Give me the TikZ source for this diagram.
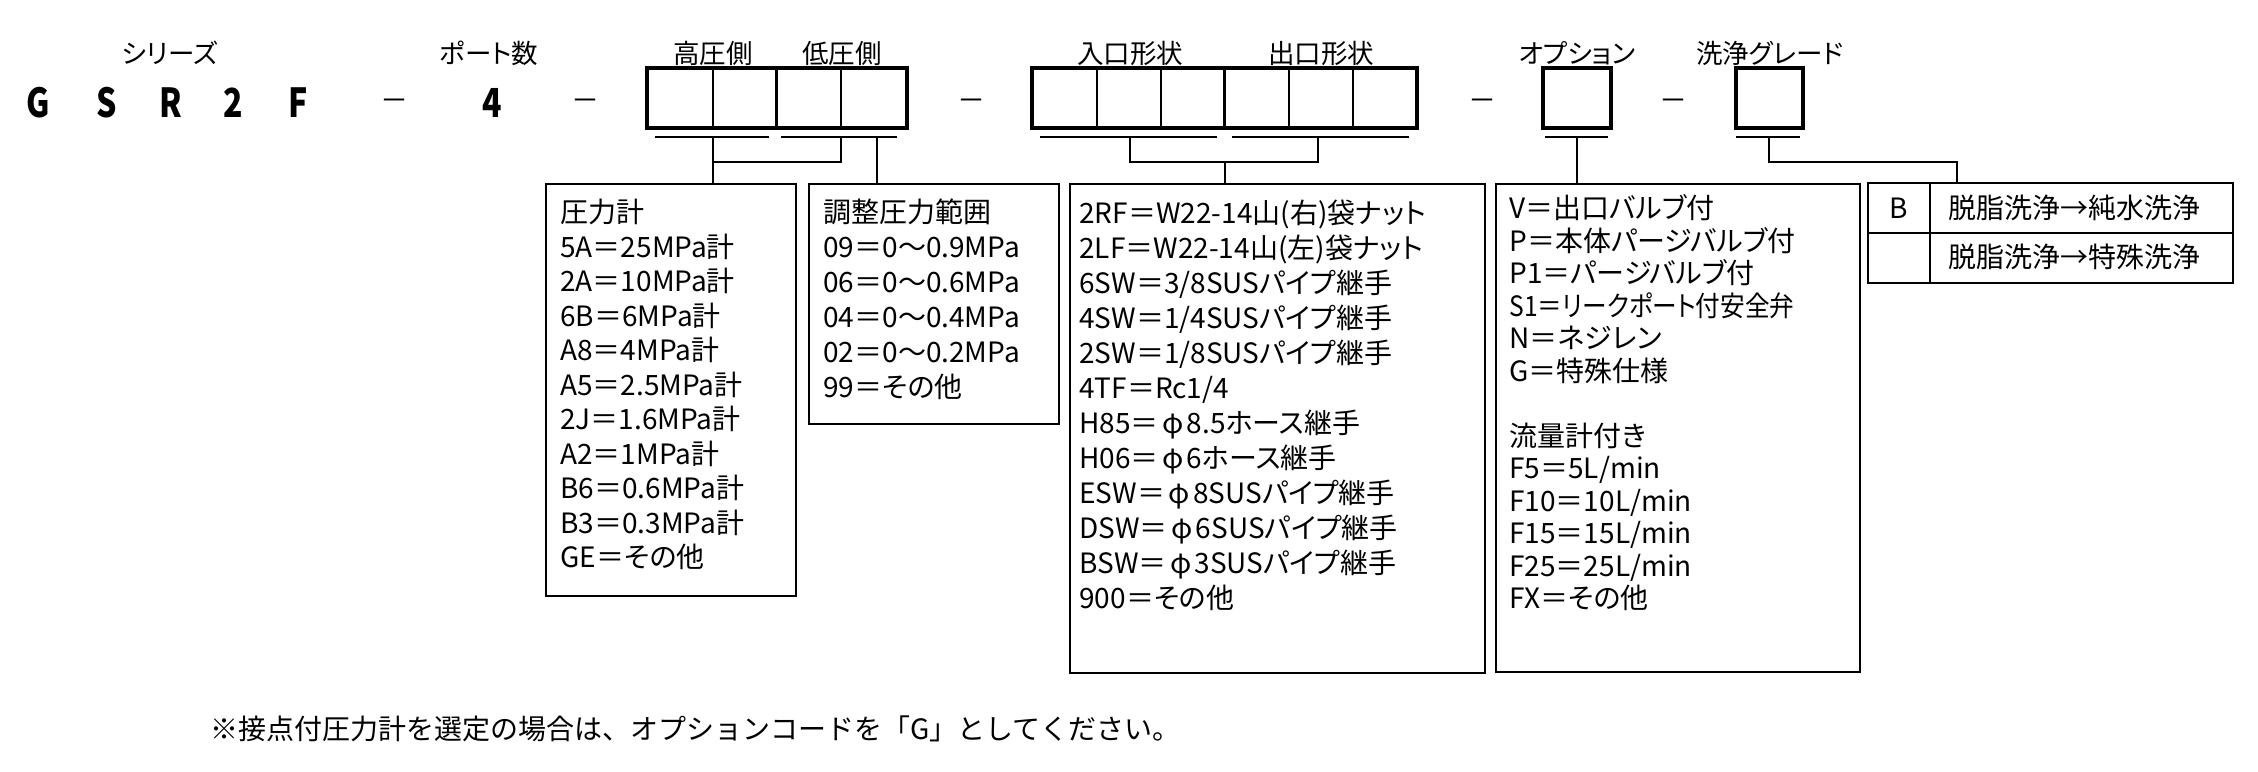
\documentclass[tikz,border=0pt]{standalone}
\usepackage{fontspec}
\usepackage{graphicx}
\setmainfont{Noto Sans CJK JP}[RawFeature=+palt]
\newfontfamily\notefont{Noto Sans CJK JP}
\usetikzlibrary{calc}

\tikzset{
  listline/.style={anchor=west, inner sep=0pt, text height=12.3pt, text depth=1.7pt, font=\fontsize{14pt}{16pt}\selectfont},
  headlabel/.style={inner sep=0pt, text height=11.7pt, text depth=1.6pt, font=\fontsize{13.25pt}{16pt}\selectfont},
  codechar/.style={inner sep=0pt, anchor=base, font=\fontsize{20pt}{24pt}\selectfont\bfseries},
  sepmark/.style={inner sep=0pt, text height=12.3pt, text depth=1.7pt, font=\fontsize{14pt}{16pt}\selectfont},
  listbox/.style={draw, line width=0.85pt, anchor=north west, inner sep=0pt, outer sep=0pt},
  codebox/.style={draw, line width=1.9pt, anchor=north west, inner sep=0pt, outer sep=0pt},
  connector/.style={line width=0.9pt},
  uline/.style={line width=1pt},
}

\begin{document}
\begin{tikzpicture}[x=0.5pt, y=-0.5pt]
\fill[white] (0,0) rectangle (2258,771);
% model code
\foreach \x/\c [count=\k] in {38/G, 107/S, 171/R, 233/2, 298/F}
{	\node[codechar] (code\k) at (\x,117) {\scalebox{0.8}[1]{\c}};
}
\node[codechar] (portnum) at (492,117) {\scalebox{0.8}[1]{4}};
\foreach \x [count=\k] in {394,585,971,1482,1673}
{	\node[sepmark] (sep\k) at (\x,100) {－};
}
% headings
\foreach \x/\txt/\nm in {170/シリーズ/series, 489/ポート数/ports, 713/高圧側/hi, 842/低圧側/lo, 1130/入口形状/inlet, 1321/出口形状/outlet, 1577/オプション/opt, 1770/洗浄グレード/clean}
{	\node[headlabel] (head-\nm) at (\x,53) {\txt};
}
% code boxes
\node[codebox, minimum width=130pt, minimum height=30pt] (pcode) at (647,68) {};
\node[codebox, minimum width=192.5pt, minimum height=30pt] (fcode) at (1032,68) {};
\node[codebox, minimum width=34pt, minimum height=30pt] (ocode) at (1543,68) {};
\node[codebox, minimum width=33.5pt, minimum height=30pt] (ccode) at (1736,68) {};
\foreach \x in {713,841,1097,1161,1289,1353}
{	\draw[line width=0.8pt] (\x,68) -- (\x,128);
}
\foreach \x in {776,1224}
{	\draw[line width=1.5pt] (\x,68) -- (\x,128);
}
\foreach \a/\b in {655/769, 781/897, 1040/1217, 1232/1409, 1545/1608, 1736/1800}
{	\draw[uline] (\a,137) -- (\b,137);
}
% list boxes
\node[listbox, minimum width=125pt, minimum height=206pt] (gauge) at (546,184) {};
\node[listbox, minimum width=125pt, minimum height=120pt] (range) at (809,184) {};
\node[listbox, minimum width=207.5pt, minimum height=244.5pt] (port) at (1070,184) {};
\node[listbox, minimum width=182pt, minimum height=244pt] (option) at (1496,184) {};
\node[listbox, line width=1pt, minimum width=182.5pt, minimum height=50pt] (grade) at (1868,183) {};
\draw[line width=1pt] (grade.west) -- (grade.east);
\draw[line width=1pt] (1930,183) -- (1930,283);
% connectors
\coordinate (hiU) at (713,137);
\coordinate (hiJ) at (713,162);
\coordinate (loU) at (841,137);
\coordinate (rangeU) at (877,137);
\draw[connector] (hiU) -- (hiU |- gauge.north);
\draw[connector] (loU) |- (hiJ);
\draw[connector] (rangeU) -- (rangeU |- range.north);
\coordinate (inU) at (1130,137);
\coordinate (outU) at (1318,137);
\coordinate (portJ) at (1225,162);
\draw[connector] (inU) |- (portJ) -| (outU);
\draw[connector] (portJ) -- (portJ |- port.north);
\coordinate (optU) at (1577,137);
\draw[connector] (optU) -- (optU |- option.north);
\coordinate (cleanU) at (1769,137);
\coordinate (cleanJ) at (1957,162);
\draw[connector] (cleanU) |- (cleanJ) -- (cleanJ |- grade.north);
% list texts
\foreach \txt [count=\k from 0] in {圧力計, 5A＝25MPa計, 2A＝10MPa計, 6B＝6MPa計, A8＝4MPa計, A5＝2.5MPa計, 2J＝1.6MPa計, A2＝1MPa計, B6＝0.6MPa計, B3＝0.3MPa計, GE＝その他}
{	\node[listline] (gauge-\k) at (560, 212+34.5*\k) {\txt};
}
\foreach \txt [count=\k from 0] in {調整圧力範囲, 09＝0〜0.9MPa, 06＝0〜0.6MPa, 04＝0〜0.4MPa, 02＝0〜0.2MPa, 99＝その他}
{	\node[listline] (range-\k) at (823, 212+34.9*\k) {\txt};
}
\foreach \txt [count=\k from 0] in {2RF＝W22-14山(右)袋ナット, 2LF＝W22-14山(左)袋ナット, 6SW＝3/8SUSパイプ継手, 4SW＝1/4SUSパイプ継手, 2SW＝1/8SUSパイプ継手, 4TF＝Rc1/4, H85＝\makebox[1em]{φ}8.5ホース継手, H06＝\makebox[1em]{φ}6ホース継手, ESW＝\makebox[1em]{φ}8SUSパイプ継手, DSW＝\makebox[1em]{φ}6SUSパイプ継手, BSW＝\makebox[1em]{φ}3SUSパイプ継手, 900＝その他}
{	\node[listline] (port-\k) at (1079, 213+35*\k) {\txt};
}
\foreach \txt [count=\k from 0] in {V＝出口バルブ付, P＝本体パージバルブ付, P1＝パージバルブ付, \scalebox{0.88}[1]{S1＝リークポート付安全弁}, N＝ネジレン, G＝特殊仕様}
{	\node[listline] (option-\k) at (1509, 208+32.5*\k) {\txt};
}
\foreach \txt [count=\k from 7] in {流量計付き, F5＝5L/min, F10＝10L/min, F15＝15L/min, F25＝25L/min, FX＝その他}
{	\node[listline] (flow-\k) at (1509, 208+32.5*\k) {\txt};
}
\node[listline, anchor=center] (grade-B) at (1899,208) {B};
\node[listline] (grade-1) at (1948,208) {脱脂洗浄→純水洗浄};
\node[listline] (grade-2) at (1948,257) {脱脂洗浄→特殊洗浄};
% note
\node[listline] (note) at (210,729) {\notefont ※接点付圧力計を選定の場合は、オプションコードを「G」としてください。};
\end{tikzpicture}
\end{document}
